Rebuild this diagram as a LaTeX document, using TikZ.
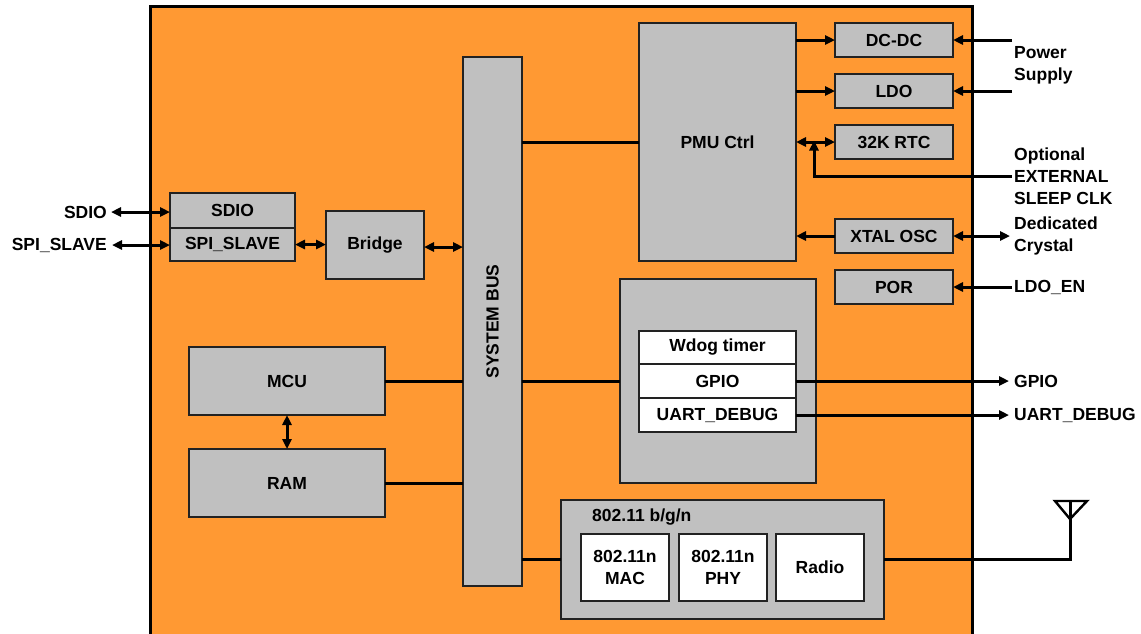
\documentclass[tikz,border=0pt]{standalone}
\usepackage{fontspec}
\setmainfont{Liberation Sans}
\usetikzlibrary{arrows.meta}
\definecolor{chiporange}{HTML}{FF9933}
\definecolor{blockgray}{HTML}{C0C0C0}
\definecolor{edgegray}{HTML}{222222}
\tikzset{
  blk/.style={draw=edgegray, line width=1.3pt, fill=blockgray, inner sep=0pt, outer sep=0pt,
    font=\bfseries\fontsize{17.5}{22}\selectfont, align=center},
  wblk/.style={blk, fill=white},
  lbl/.style={inner sep=0pt, font=\bfseries\fontsize{17.5}{22}\selectfont, align=left},
  conn/.style={line width=3pt, black},
  arr/.style={conn, -{Triangle[length=10pt,width=9pt]}},
  darr/.style={conn, {Triangle[length=10pt,width=9pt]}-{Triangle[length=10pt,width=9pt]}},
}
\begin{document}
\begin{tikzpicture}[x=1pt, y=-1pt]
\clip (0,0) rectangle (1141,633);
\fill[white] (0,0) rectangle (1141,633);
% chip outline
\draw[fill=chiporange, line width=3pt] (150,6) rectangle (972,650);

% blocks
\node[blk, minimum width=157, minimum height=238] (pmu) at (717.5,142) {PMU Ctrl};
\node[blk, minimum width=118, minimum height=34] (dcdc) at (894,40) {DC-DC};
\node[blk, minimum width=118, minimum height=34] (ldo) at (894,91) {LDO};
\node[blk, minimum width=118, minimum height=34] (rtc) at (894,142) {32K RTC};
\node[blk, minimum width=118, minimum height=34] (xtal) at (894,236) {XTAL OSC};
\node[blk, minimum width=118, minimum height=34] (por) at (894,287) {POR};

\node[blk, minimum width=59, minimum height=529] (bus) at (492.5,321.5) {};
\node[font=\bfseries\fontsize{17.5}{22}\selectfont, rotate=90] (bustext) at (bus.center) {SYSTEM BUS};

\node[blk, minimum width=125, minimum height=35] (sdio) at (232.5,210.5) {SDIO};
\node[blk, minimum width=125, minimum height=33] (spi) at (232.5,244.5) {SPI\_SLAVE};
\node[blk, minimum width=98, minimum height=68] (bridge) at (375,245) {Bridge};

\node[blk, minimum width=196, minimum height=68] (mcu) at (287,381) {MCU};
\node[blk, minimum width=196, minimum height=68] (ram) at (287,483) {RAM};

\node[blk, minimum width=196, minimum height=204] (periph) at (718,381) {};
\node[wblk, minimum width=157, minimum height=33] (wdog) at (717.5,347.5) {Wdog timer};
\node[wblk, minimum width=157, minimum height=34] (gpio) at (717.5,381) {GPIO};
\node[wblk, minimum width=157, minimum height=34] (uart) at (717.5,415) {UART\_DEBUG};

\node[blk, minimum width=323, minimum height=119] (wifi) at (722.5,559.5) {};
\node[lbl, anchor=west] (wifilbl) at (592,517) {802.11 b/g/n};
\node[wblk, minimum width=88, minimum height=67] (mac) at (625,567.5) {802.11n\\MAC};
\node[wblk, minimum width=88, minimum height=67] (phy) at (723,567.5) {802.11n\\PHY};
\node[wblk, minimum width=88, minimum height=67] (radio) at (820,567.5) {Radio};

% external labels
\node[lbl, anchor=east] (lsdio) at (107,212) {SDIO};
\node[lbl, anchor=east] (lspi) at (107,245) {SPI\_SLAVE};
\node[lbl, anchor=west] (lpow) at (1014,65) {Power\\Supply};
\node[lbl, anchor=west] (lclk) at (1014,176) {Optional\\EXTERNAL\\SLEEP CLK};
\node[lbl, anchor=west] (lxtal) at (1014,236) {Dedicated\\Crystal};
\node[lbl, anchor=west] (lldoen) at (1014,287) {LDO\_EN};
\node[lbl, anchor=west] (lgpio) at (1014,381) {GPIO};
\node[lbl, anchor=west] (luart) at (1014,415) {UART\_DEBUG};

% free-end coordinates
\coordinate (sdioL) at (111,212);
\coordinate (spiL) at (112,245);
\coordinate (powA) at (1012,40);
\coordinate (powB) at (1012,91);
\coordinate (clkR) at (1012,176);
\coordinate (clkJ) at (814,176);
\coordinate (xtalR) at (1010,236);
\coordinate (ldoenR) at (1012,287);
\coordinate (gpioR) at (1009,381);
\coordinate (uartR) at (1009,415);
\coordinate (ant) at (1070,519);

% connectors
\draw[darr] (sdioL) -- (sdioL -| sdio.west);
\draw[darr] (spiL) -- (spiL -| spi.west);
\draw[darr] (spi.east) -- (spi.east -| bridge.west);
\draw[darr] ([yshift=-2pt]bridge.east) -- ([yshift=-2pt]bridge.east -| bus.west);
\draw[darr] (mcu.south) -- (ram.north);
\draw[conn] (mcu.east) -- (mcu.east -| bus.west);
\draw[conn] (ram.east) -- (ram.east -| bus.west);
\draw[conn] (pmu.west -| bus.east) -- (pmu.west);
\draw[conn] (periph.west -| bus.east) -- (periph.west);
\draw[conn] (wifi.west -| bus.east) -- (wifi.west);

\draw[arr] (dcdc.west -| pmu.east) -- (dcdc.west);
\draw[arr] (ldo.west -| pmu.east) -- (ldo.west);
\draw[darr] (rtc.west -| pmu.east) -- (rtc.west);
\draw[arr] (clkR) -- (clkJ) -- ([yshift=1.5pt]clkJ |- rtc.west);
\draw[arr] (xtal.west) -- (xtal.west -| pmu.east);
\draw[darr] (xtal.east) -- (xtalR);
\draw[arr] (powA) -- (dcdc.east);
\draw[arr] (powB) -- (ldo.east);
\draw[arr] (ldoenR) -- (por.east);
\draw[arr] (gpio.east) -- (gpioR);
\draw[arr] (uart.east) -- (uartR);

% antenna
\draw[conn] (wifi.east) -- (wifi.east -| ant) -- (ant) -- (1070,501);
\draw[line width=2.4pt, line join=miter] (1055,501) -- (1087,501) -- (ant) -- cycle;
\end{tikzpicture}
\end{document}
